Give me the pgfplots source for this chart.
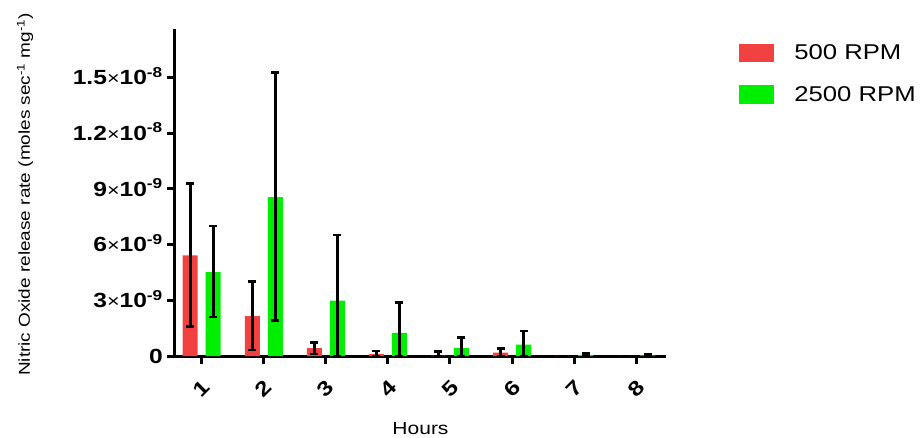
\documentclass[border=0pt]{standalone}
\usepackage{pgfplots}
\pgfplotsset{compat=1.18}
\usepackage{pgfplotstable}
\usepackage{fontspec}
\setmainfont{Liberation Sans}[FakeStretch=1.2]
\definecolor{myred}{RGB}{242,65,65}
\definecolor{mygreen}{RGB}{0,238,0}
\newcommand{\sci}[2]{#1{\mdseries\fontsize{18}{18}\selectfont ×}10\textsuperscript{#2}}

\pgfplotstableread{
x  y     ep    em
1  5.42  3.86  3.82
2  2.15  1.85  1.83
3  0.43  0.31  0.33
4  0.10  0.18  0.10
5  0.02  0.21  0.02
6  0.18  0.23  0.18
7  0.01  0.00  0.00
8  0.00  0.00  0.00
}\redtab

\pgfplotstableread{
x  y     ep    em
1  4.51  2.49  2.41
2  8.55  6.71  6.65
3  2.98  3.54  2.98
4  1.24  1.63  1.24
5  0.43  0.57  0.43
6  0.61  0.74  0.61
7  0.06  0.08  0.06
8  0.03  0.07  0.03
}\greentab

\begin{document}
\begin{tikzpicture}
\path[use as bounding box] (0,0) rectangle (921pt,437pt);
\begin{axis}[
  at={(175pt,81pt)}, anchor=south west,
  scale only axis, width=491pt, height=327pt,
  xmin=0.57, xmax=8.48, ymin=0, ymax=17.6,
  axis x line*=bottom, axis y line*=left,
  axis line style={line width=3pt, -},
  xtick={1,...,8}, xticklabels={1,2,3,4,5,6,7,8},
  ytick={0,3,6,9,12,15},
  yticklabels={0,\sci{3}{-9},\sci{6}{-9},\sci{9}{-9},\sci{1.2}{-8},\sci{1.5}{-8}},
  tick align=outside, major tick length=8pt,
  tick style={line width=3pt, black},
  ticklabel style={font=\fontsize{20.5}{20.5}\selectfont\bfseries},
  yticklabel style={anchor=base east, inner sep=0pt, xshift=-4pt, yshift=-7.3pt},
  xticklabel style={anchor=center, inner sep=0pt, yshift=-25pt, rotate=45},
  ybar=8pt, bar width=15pt,
  xlabel={Hours}, ylabel={Nitric Oxide release rate (moles sec\textsuperscript{-1} mg\textsuperscript{-1})},
  every axis x label/.style={at={(axis description cs:0.5,-0.2217)}, anchor=center, font=\fontsize{17.5}{17.5}\selectfont},
  every axis y label/.style={at={(axis description cs:-0.3055,0.494)}, anchor=center, rotate=90, font=\fontsize{15.8}{15.8}\selectfont},
  legend style={at={(1.149,0.9557)}, anchor=north west, draw=none, fill=none,
    font=\fontsize{21.4}{21.4}\selectfont, row sep=23pt, inner sep=0pt,
    nodes={inner sep=0pt}},
  legend cell align=left,
  /tikz/every odd column/.append style={column sep=20pt},
  error bars/y dir=both, error bars/y explicit,
  error bars/error bar style={line width=3pt, black},
  error bars/error mark options={rotate=90, line width=2.5pt, black, mark size=4pt},
]
\addplot[fill=myred, draw=none, legend image code/.code={\fill[myred] (0pt,-9.3pt) rectangle (35pt,9.3pt);}]
  table[x=x, y=y, y error plus=ep, y error minus=em] {\redtab};
\addlegendentry{500 RPM}
\addplot[fill=mygreen, draw=none, legend image code/.code={\fill[mygreen] (0pt,-9.3pt) rectangle (35pt,9.3pt);}]
  table[x=x, y=y, y error plus=ep, y error minus=em] {\greentab};
\addlegendentry{2500 RPM}
\end{axis}
\end{tikzpicture}
\end{document}
